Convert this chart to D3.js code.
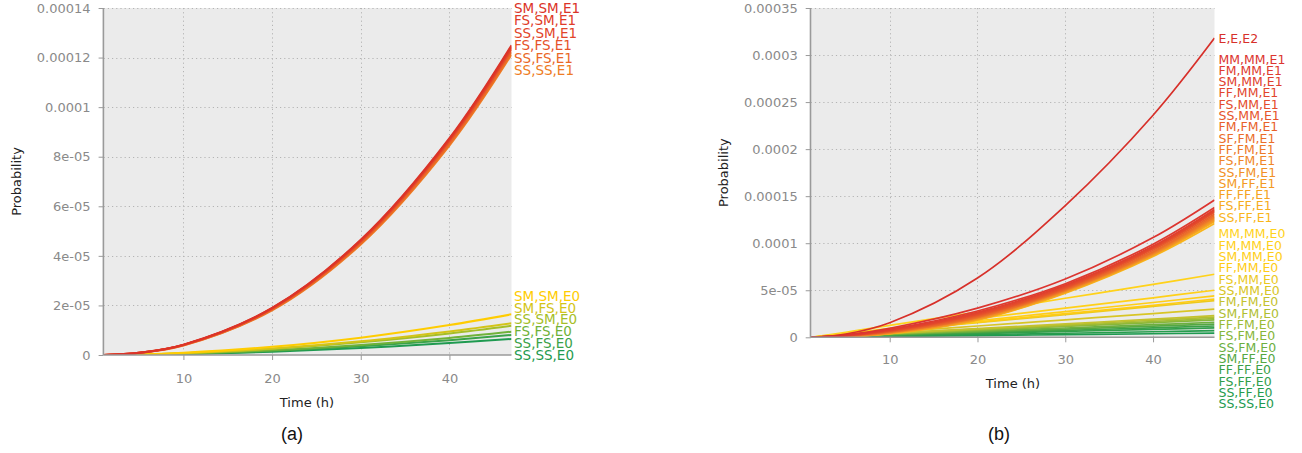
<!DOCTYPE html>
<html>
<head>
<meta charset="utf-8">
<script src="https://cdn.jsdelivr.net/npm/d3@7"></script>
<style>
  html, body { margin: 0; padding: 0; background: #fff; }
  svg { display: block; }
  .tick text { font-family: "DejaVu Sans", Verdana, sans-serif; fill: #8a8a8a; }
  .title { font-family: "DejaVu Sans", Verdana, sans-serif; fill: #222; }
  .caption { font-family: "Liberation Sans", Arial, sans-serif; fill: #111; }
  .lbl { font-family: "DejaVu Sans", Verdana, sans-serif; }
</style>
</head>
<body>
<svg id="fig" width="1302" height="453"></svg>
<script>
// Sample times (h) at which every curve is listed
const times = [1, 5, 10, 20, 30, 40, 47];
// Probability values are listed in units of 1e-6
const UNIT = 1e-6;

// ---- panel (a) ----
const aE1Names = ["SM,SM,E1", "FS,SM,E1", "SS,SM,E1", "FS,FS,E1", "SS,FS,E1", "SS,SS,E1"];
const aE1Values = [
  [0, 0.9, 4.2, 19.0, 46.5, 87.5, 125.0],
  [0, 0.9, 4.1, 18.9, 46.3, 87.1, 124.4],
  [0, 0.9, 4.1, 18.8, 46.0, 86.7, 123.8],
  [0, 0.9, 4.0, 18.6, 45.7, 86.2, 123.2],
  [0, 0.8, 3.9, 18.3, 45.1, 85.3, 122.2],
  [0, 0.8, 3.8, 18.0, 44.6, 84.5, 121.2]
];
const aE0Names = ["SM,SM,E0", "SM,FS,E0", "SS,SM,E0", "FS,FS,E0", "SS,FS,E0", "SS,SS,E0"];
const aE0Values = [
  [0, 0.20, 0.90, 3.30, 7.00, 12.1, 16.4],
  [0, 0.15, 0.72, 2.60, 5.50, 9.50, 12.8],
  [0, 0.14, 0.66, 2.40, 5.10, 8.70, 11.8],
  [0, 0.11, 0.52, 1.90, 4.05, 6.90, 9.40],
  [0, 0.10, 0.45, 1.65, 3.50, 6.00, 8.10],
  [0, 0.08, 0.36, 1.30, 2.80, 4.80, 6.50]
];
const aYTicks = [0, 2e-5, 4e-5, 6e-5, 8e-5, 1e-4, 1.2e-4, 1.4e-4];
const aYTickLabels = ["0", "2e-05", "4e-05", "6e-05", "8e-05", "0.0001", "0.00012", "0.00014"];

// ---- panel (b) ----
const bE2Names = ["E,E,E2"];
const bE2Values = [
  [0, 3.5, 15.5, 63, 140, 236, 318]
];
const bE1Names = ["MM,MM,E1", "FM,MM,E1", "SM,MM,E1", "FF,MM,E1", "FS,MM,E1", "SS,MM,E1",
  "FM,FM,E1", "SF,FM,E1", "FF,FM,E1", "FS,FM,E1", "SS,FM,E1", "SM,FF,E1",
  "FF,FF,E1", "FS,FF,E1", "SS,FF,E1"];
const bE1Values = [
  [0, 2.5, 9.6, 31.0, 62.0, 106.0, 146.0],
  [0, 2.2, 8.5, 28.0, 57.0, 99.0, 138.0],
  [0, 2.0, 7.8, 26.5, 55.5, 97.0, 136.0],
  [0, 1.9, 7.4, 25.5, 54.5, 96.0, 135.0],
  [0, 1.8, 7.0, 24.5, 53.5, 95.0, 134.0],
  [0, 1.7, 6.6, 23.5, 52.5, 94.0, 133.0],
  [0, 1.5, 6.0, 22.5, 51.5, 92.5, 131.0],
  [0, 1.4, 5.6, 21.5, 50.5, 91.0, 129.5],
  [0, 1.3, 5.3, 21.0, 50.0, 90.0, 128.0],
  [0, 1.2, 5.0, 20.5, 49.5, 89.0, 127.0],
  [0, 1.1, 4.7, 20.0, 49.0, 88.5, 126.0],
  [0, 1.0, 4.4, 19.5, 48.5, 88.0, 125.0],
  [0, 1.0, 4.2, 19.0, 48.0, 87.5, 124.0],
  [0, 0.9, 4.0, 18.7, 47.5, 87.0, 123.0],
  [0, 0.9, 3.8, 18.3, 47.0, 86.0, 121.0]
];
const bE0Names = ["MM,MM,E0", "FM,MM,E0", "SM,MM,E0", "FF,MM,E0", "FS,MM,E0", "SS,MM,E0",
  "FM,FM,E0", "SM,FM,E0", "FF,FM,E0", "FS,FM,E0", "SS,FM,E0", "SM,FF,E0",
  "FF,FF,E0", "FS,FF,E0", "SS,FF,E0", "SS,SS,E0"];
const bE0Values = [
  [0, 5.4, 12.7, 26.8, 41.5, 56.3, 67.0],
  [0, 4.0, 9.5, 20.0, 31.0, 42.0, 50.0],
  [0, 3.5, 8.4, 17.6, 27.3, 37.0, 44.0],
  [0, 3.2, 7.7, 16.2, 25.1, 34.0, 40.5],
  [0, 3.1, 7.4, 15.6, 24.2, 32.8, 39.0],
  [0, 2.4, 5.7, 12.0, 18.6, 25.2, 30.0],
  [0, 1.8, 4.4, 9.2, 14.3, 19.3, 23.0],
  [0, 1.7, 4.1, 8.6, 13.3, 18.1, 21.5],
  [0, 1.6, 3.8, 8.0, 12.4, 16.8, 20.0],
  [0, 1.5, 3.5, 7.4, 11.5, 15.5, 18.5],
  [0, 1.3, 3.0, 6.4, 9.9, 13.4, 16.0],
  [0, 1.1, 2.7, 5.6, 8.7, 11.8, 14.0],
  [0, 1.0, 2.3, 4.8, 7.4, 10.1, 12.0],
  [0, 0.8, 1.9, 4.0, 6.2, 8.4, 10.0],
  [0, 0.6, 1.3, 2.8, 4.3, 5.9, 7.0],
  [0, 0.4, 0.9, 1.8, 2.8, 3.8, 4.5]
];
const bYTicks = [0, 5e-5, 1e-4, 1.5e-4, 2e-4, 2.5e-4, 3e-4, 3.5e-4];
const bYTickLabels = ["0", "5e-05", "0.0001", "0.00015", "0.0002", "0.00025", "0.0003", "0.00035"];

const xTicks = [10, 20, 30, 40];
const xDomain = [1, 47];

// ---- drawing ----
const svg = d3.select("#fig");

function series(names, values, palette) {
  const col = d3.scaleLinear()
    .domain(palette.map((_, i) => i / (palette.length - 1) * Math.max(1, names.length - 1)))
    .range(palette).interpolate(d3.interpolateRgb);
  return names.map((n, i) => ({
    name: n,
    color: names.length === 1 ? palette[0] : col(i),
    pts: times.map((t, k) => [t, values[i][k] * UNIT])
  }));
}

function panel(cfg) {
  const g = svg.append("g");
  const x = d3.scaleLinear().domain(xDomain).range([cfg.left, cfg.right]);
  const y = d3.scaleLinear().domain([0, cfg.yTicks[cfg.yTicks.length - 1]]).range([cfg.bottom, cfg.top]);

  g.append("rect").attr("x", cfg.left).attr("y", cfg.top)
    .attr("width", cfg.right - cfg.left).attr("height", cfg.bottom - cfg.top)
    .attr("fill", "#ebebeb");

  // dotted grid
  const grid = g.append("g").attr("stroke", "#b4b4b4").attr("stroke-width", 1)
    .attr("stroke-dasharray", "1.2,3");
  grid.selectAll(".gh").data(cfg.yTicks.filter(v => v > 0)).join("line")
    .attr("x1", cfg.left).attr("x2", cfg.right)
    .attr("y1", d => Math.round(y(d)) + 0.5).attr("y2", d => Math.round(y(d)) + 0.5);
  grid.selectAll(".gv").data(xTicks).join("line")
    .attr("y1", cfg.top).attr("y2", cfg.bottom)
    .attr("x1", d => Math.round(x(d)) + 0.5).attr("x2", d => Math.round(x(d)) + 0.5);

  // curves
  const clipId = "clip" + cfg.id;
  g.append("clipPath").attr("id", clipId).append("rect")
    .attr("x", cfg.left).attr("y", cfg.top - 2)
    .attr("width", cfg.right - cfg.left).attr("height", cfg.bottom - cfg.top + 2);
  const line = d3.line().x(d => x(d[0])).y(d => y(d[1])).curve(d3.curveCatmullRom.alpha(0.5));
  const all = cfg.groups.flatMap(gr => gr.items);
  g.append("g").attr("clip-path", `url(#${clipId})`)
    .selectAll("path").data(all.slice().reverse()).join("path")
    .attr("d", d => line(d.pts)).attr("fill", "none")
    .attr("stroke", d => d.color).attr("stroke-width", cfg.lineWidth)
    .attr("stroke-linejoin", "round");

  // axes
  const yAxis = d3.axisLeft(y).tickValues(cfg.yTicks)
    .tickFormat((d, i) => cfg.yLabels[i]).tickSize(5).tickPadding(8);
  const ya = g.append("g").attr("transform", `translate(${cfg.left},0)`).call(yAxis);
  const xAxis = d3.axisBottom(x).tickValues(xTicks).tickSize(5).tickPadding(cfg.xPad);
  const xa = g.append("g").attr("transform", `translate(0,${cfg.bottom})`).call(xAxis);
  [ya, xa].forEach(a => {
    a.select(".domain").attr("stroke", "#9a9a9a").attr("stroke-width", 1.6);
    a.selectAll(".tick line").attr("stroke", "#9a9a9a");
    a.selectAll(".tick text").attr("font-size", 13);
  });
  ya.select(".domain").attr("d", `M-0.2,${cfg.top}V${cfg.bottom}`);
  xa.select(".domain").attr("d", `M${cfg.left},0H${cfg.right}`);

  // titles
  g.append("text").attr("class", "title").attr("font-size", 13)
    .attr("text-anchor", "middle")
    .attr("transform", `translate(${cfg.yTitleX},${(cfg.top + cfg.bottom) / 2}) rotate(-90)`)
    .text("Probability");
  g.append("text").attr("class", "title").attr("font-size", 13)
    .attr("text-anchor", "middle").attr("x", cfg.xTitleX).attr("y", cfg.xTitleY)
    .text("Time (h)");
  g.append("text").attr("class", "caption").attr("font-size", 18)
    .attr("text-anchor", "middle").attr("x", cfg.capX).attr("y", cfg.capY)
    .text(cfg.caption);

  // stacked end labels, one block per group
  const lab = g.append("g").attr("class", "lbl").attr("font-size", cfg.labelSize);
  let cursor = null;
  cfg.groups.forEach(gr => {
    let y0;
    if (gr.place === "top") y0 = cfg.top;
    else if (gr.place === "bottom") y0 = cfg.bottom - (gr.items.length - 1) * gr.step;
    else if (gr.place === "value") y0 = y(gr.items[0].pts[gr.items[0].pts.length - 1][1]);
    else y0 = cursor + gr.gap;
    gr.items.forEach((s, i) => {
      lab.append("text").attr("x", cfg.right + cfg.labelGap).attr("y", y0 + i * gr.step)
        .attr("dy", "0.36em").attr("fill", s.color).text(s.name);
    });
    cursor = y0 + (gr.items.length - 1) * gr.step;
  });
}

panel({
  id: "a", left: 103.6, right: 511.5, top: 8, bottom: 355,
  yTicks: aYTicks, yLabels: aYTickLabels, xPad: 14, lineWidth: 2,
  yTitleX: 21, xTitleX: 307, xTitleY: 407, capX: 292, capY: 440, caption: "(a)",
  labelSize: 13.5, labelGap: 2.5,
  groups: [
    { items: series(aE1Names, aE1Values, ["#db3328", "#e4492b", "#ee7c24"]), place: "top", step: 12.5 },
    { items: series(aE0Names, aE0Values, ["#ffcc00", "#c8c21e", "#8ebb2e", "#41a447", "#1f9a50"]), place: "bottom", step: 11.8 }
  ]
});

panel({
  id: "b", left: 810.7, right: 1214.5, top: 8, bottom: 337.3,
  yTicks: bYTicks, yLabels: bYTickLabels, xPad: 12.5, lineWidth: 1.7,
  yTitleX: 728, xTitleX: 1013, xTitleY: 388, capX: 999, capY: 440, caption: "(b)",
  labelSize: 12.5, labelGap: 4,
  groups: [
    { items: series(bE2Names, bE2Values, ["#d7302a"]), place: "value", step: 11.3 },
    { items: series(bE1Names, bE1Values, ["#dc3530", "#e5502b", "#f08a28", "#f9b51a"]), place: "after", gap: 21, step: 11.29 },
    { items: series(bE0Names, bE0Values, ["#ffd21a", "#ffcc14", "#c4c22e", "#86b63a", "#3aa048", "#1e9a50"]), place: "after", gap: 16.7, step: 11.33 }
  ]
});
</script>
</body>
</html>
